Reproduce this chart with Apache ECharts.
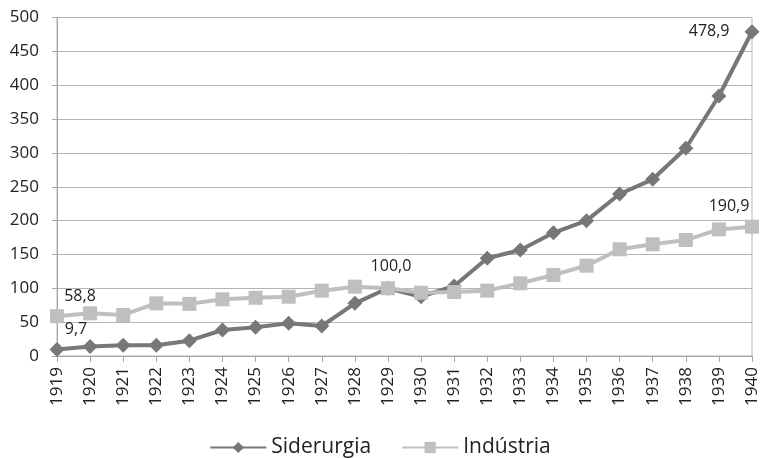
<!DOCTYPE html>
<html>
<head>
<meta charset="utf-8">
<script src="https://cdn.jsdelivr.net/npm/echarts@6/dist/echarts.min.js"></script>
<style>
  html, body { margin: 0; padding: 0; background: #fff; }
  #chart { width: 760px; height: 458px; }
</style>
</head>
<body>
<div id="chart"></div>
<script>
// anos
var years = ['1919','1920','1921','1922','1923','1924','1925','1926','1927','1928','1929',
             '1930','1931','1932','1933','1934','1935','1936','1937','1938','1939','1940'];

// índices (1929 = 100)
var siderurgia = [9.7, 14, 16, 16, 22.6, 38.4, 42.4, 48.3, 44.3, 77.8, 100.0,
                  87.6, 103.4, 144.3, 156.6, 182, 199.9, 239.3, 261, 306.8, 384, 478.9];
var industria = [58.8, 63, 60.6, 77.8, 77, 83.7, 86, 87.6, 96.5, 102.4, 100.0,
                 93.5, 94.5, 96.5, 107.4, 119.6, 133.4, 157.6, 165, 171.3, 187, 190.9];

// pontos com rótulo
var sidLabels = [0, 21];
var indLabels = [0, 10, 21];

var chart = echarts.init(document.getElementById('chart'));

function fmt(v){
  return v.toFixed(1).replace('.', ',');
}

// monta os dados com rótulos só nos pontos marcados
function withLabels(values, idxs, opts){
  return values.map(function(v, i){
    var k = idxs.indexOf(i);
    if (k < 0) return v;
    return { value: v, label: Object.assign({ show: true }, opts[k]) };
  });
}

var option = {
  animation: false,
  textStyle: { fontFamily: 'Open Sans' },
  grid: {
    left: 57, right: 8, top: 17.5, bottom: 102,
    show: true, borderColor: '#b4b4b4', borderWidth: 1,
    outerBoundsMode: 'none'
  },
  legend: {
    top: 432,
    left: 'center',
    itemWidth: 56,
    itemHeight: 14,
    itemGap: 30,
    textStyle: { fontSize: 21, color: '#222' },
    data: ['Siderurgia', 'Indústria']
  },
  xAxis: {
    type: 'category',
    data: years,
    boundaryGap: false,
    axisLine: { lineStyle: { color: '#a6a6a6', width: 1 } },
    axisTick: { show: true, length: 6, lineStyle: { color: '#a6a6a6' } },
    axisLabel: { rotate: 90, fontSize: 17, color: '#222', margin: 11, interval: 0 },
    splitLine: { show: false }
  },
  yAxis: {
    type: 'value',
    min: 0, max: 500, interval: 50,
    axisLine: { show: true, lineStyle: { color: '#a6a6a6', width: 1 } },
    axisTick: { show: true, length: 5, lineStyle: { color: '#a6a6a6' } },
    axisLabel: { fontSize: 17, color: '#222', margin: 18 },
    splitLine: { lineStyle: { color: '#b4b4b4', width: 1 } }
  },
  series: [
    {
      name: 'Siderurgia',
      type: 'line',
      symbol: 'diamond',
      symbolSize: 15,
      color: '#777777',
      lineStyle: { width: 4, color: '#777777' },
      itemStyle: { color: '#777777' },
      label: { fontSize: 16, color: '#222', formatter: function(p){ return fmt(p.value); } },
      data: withLabels(siderurgia, sidLabels, [
        { position: 'top', offset: [19, 1] },
        { position: 'left', distance: 15 }
      ])
    },
    {
      name: 'Indústria',
      type: 'line',
      symbol: 'rect',
      symbolSize: 14,
      color: '#bfbfbf',
      lineStyle: { width: 4, color: '#bfbfbf' },
      itemStyle: { color: '#bfbfbf' },
      label: { fontSize: 16, color: '#222', formatter: function(p){ return fmt(p.value); } },
      data: withLabels(industria, indLabels, [
        { position: 'top', offset: [23, 0] },
        { position: 'top', offset: [3, 0], distance: 7 },
        { position: 'top', offset: [-23, 0] }
      ])
    }
  ]
};

chart.setOption(option);
</script>
</body>
</html>
